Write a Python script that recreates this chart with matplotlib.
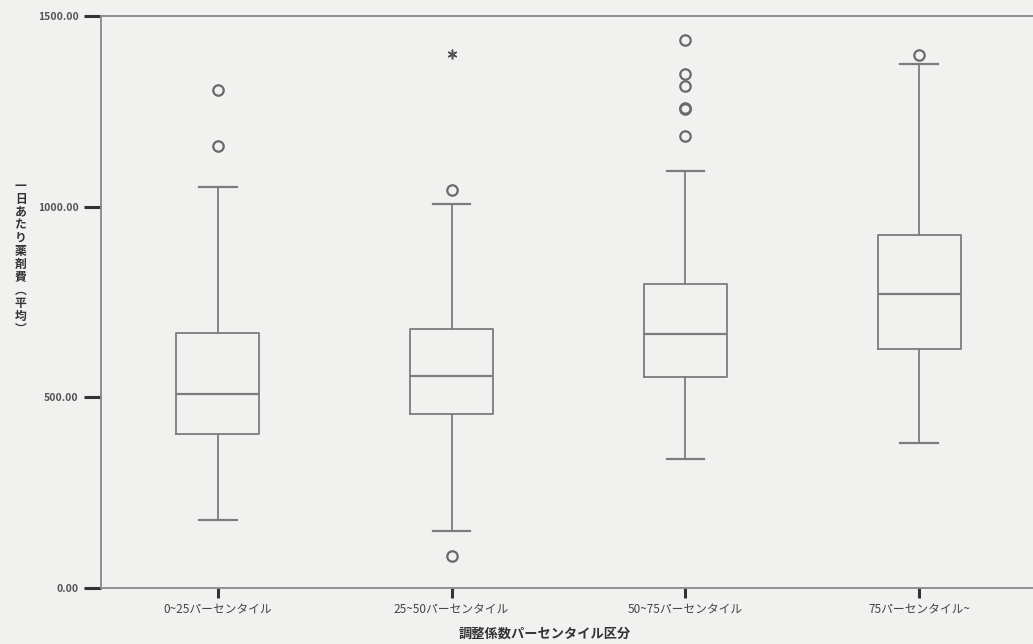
import matplotlib.pyplot as plt

plt.rcParams['font.family'] = ['Noto Sans CJK JP', 'DejaVu Sans']

# values
categories = ['0~25パーセンタイル', '25~50パーセンタイル', '50~75パーセンタイル', '75パーセンタイル~']
whislo = [177, 150, 338, 380]
q1 = [403, 457, 553, 627]
med = [510, 555, 667, 770]
q3 = [668, 680, 798, 927]
whishi = [1052, 1007, 1094, 1374]
outliers = [[1160, 1307], [85, 1044], [1186, 1256, 1260, 1317, 1347, 1437], [1398]]
extremes = [[], [1400], [], []]

ytick_vals = [0, 500, 1000, 1500]
ytick_labels = ['0.00', '500.00', '1000.00', '1500.00']

grey = '#7c7c7c'
bg = '#f1f1ef'

fig = plt.figure(figsize=(10.33, 6.44), dpi=100, facecolor=bg)
ax = fig.add_axes([0.0978, 0.087, 0.905, 0.888], facecolor=bg)

stats = []
for i in range(len(categories)):
    stats.append(dict(med=med[i], q1=q1[i], q3=q3[i],
                      whislo=whislo[i], whishi=whishi[i], fliers=outliers[i]))

pos = list(range(1, len(categories) + 1))
ax.bxp(stats, positions=pos, widths=0.355, capwidths=0.16,
       boxprops=dict(color=grey, linewidth=1.3),
       whiskerprops=dict(color=grey, linewidth=1.3),
       capprops=dict(color=grey, linewidth=1.6),
       medianprops=dict(color=grey, linewidth=1.6),
       flierprops=dict(marker='o', markersize=7.5, markerfacecolor='none',
                       markeredgecolor='#6a6a6a', markeredgewidth=1.6))

# extreme values drawn as asterisks (SPSS style)
for p, ext in zip(pos, extremes):
    if ext:
        ax.plot([p] * len(ext), ext, linestyle='none', marker=(6, 2, 0),
                markersize=7, markeredgewidth=1.1, color='#555555')

ax.set_xlim(0.5, 4.5)
ax.set_ylim(0, 1500)
ax.set_yticks(ytick_vals)
ax.set_yticklabels(ytick_labels, fontsize=7.5, color='#555555', fontweight='bold')
ax.set_xticks(pos)
ax.set_xticklabels(categories, fontsize=8.5, color='#444444')
ax.tick_params(axis='y', length=12, width=2.2, color='#333333', pad=4)
ax.tick_params(axis='x', length=7, width=2.2, color='#333333', pad=4)

for side in ['left', 'bottom', 'top']:
    ax.spines[side].set_color('#888888')
    ax.spines[side].set_linewidth(1.3)
ax.spines['right'].set_visible(False)

ax.set_xlabel('調整係数パーセンタイル区分', fontsize=9.5, fontweight='bold',
              color='#333333')
ax.xaxis.set_label_coords(0.475, -0.068)

ylabel = '一日あたり薬剤費︵平均︶'
fig.text(0.02, 0.6, '\n'.join(ylabel), fontsize=8.5, fontweight='bold',
         color='#333333', ha='center', va='center', linespacing=1.0)

fig.savefig('out.png', dpi=100, facecolor=bg)
